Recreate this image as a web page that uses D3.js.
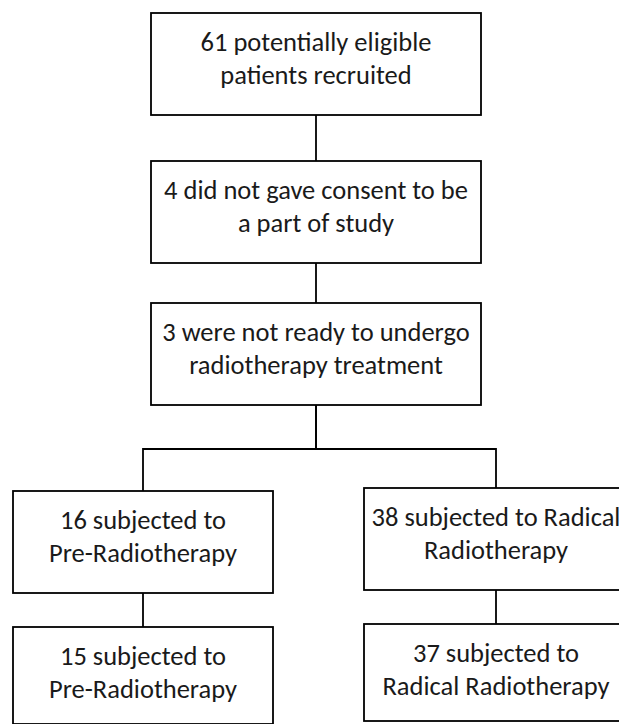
<!DOCTYPE html>
<html>
<head>
<meta charset="utf-8">
<script src="https://cdn.jsdelivr.net/npm/d3@7"></script>
<style>
  body { margin: 0; background: #fff; }
  svg { display: block; }
  .box { fill: #fff; stroke: #000; stroke-width: 1.8; }
  .link { fill: none; stroke: #000; stroke-width: 1.8; }
  .label { font-family: Carlito, Calibri, Lato, sans-serif; font-size: 26.5px; fill: #1a1a1a; }
</style>
</head>
<body>
<div id="chart"></div>
<script>
// flow steps, top to bottom
var stepIds   = ["recruited", "consent", "ready", "preRT", "radRT", "preRT2", "radRT2"];
var counts    = [61, 4, 3, 16, 38, 15, 37];
var firstLine = ["potentially eligible", "did not gave consent to be", "were not ready to undergo",
                 "subjected to", "subjected to Radical", "subjected to", "subjected to"];
var secondLine = ["patients recruited", "a part of study", "radiotherapy treatment",
                  "Pre-Radiotherapy", "Radiotherapy", "Pre-Radiotherapy", "Radical Radiotherapy"];
var levels    = [0, 1, 2, 3, 3, 4, 4];
var branches  = ["main", "main", "main", "left", "right", "left", "right"];
var parents   = [null, "recruited", "consent", "ready", "ready", "preRT", "radRT"];

var width = 619, height = 724;

var svg = d3.select("#chart").append("svg")
    .attr("width", width)
    .attr("height", height);

// layout scales
var xCenter = d3.scaleOrdinal().domain(["main", "left", "right"]).range([316, 143, 496]);
var boxW    = d3.scaleOrdinal().domain(["main", "left", "right"]).range([330, 260, 264]);
var yTop    = d3.scaleOrdinal().domain([0, 1, 2, 3, 4]).range([13, 161, 303, 489, 625]);
var boxH    = d3.scaleOrdinal().domain([0, 1, 2, 3, 4]).range([102, 102, 102, 102, 97]);
// small per-branch nudge seen in the source figure
var nudge   = d3.scaleOrdinal().domain(["main", "left", "right"]).range([0, 2, -1]);

var nodes = stepIds.map(function(id, i) {
  var b = branches[i];
  var top = yTop(levels[i]) + nudge(b);
  return {
    id: id,
    lines: [counts[i] + " " + firstLine[i], secondLine[i]],
    cx: xCenter(b),
    w: boxW(b),
    top: top,
    bottom: top + boxH(levels[i]),
    parent: parents[i]
  };
});
var byId = {};
nodes.forEach(function(d) { byId[d.id] = d; });

// connectors
var splitY = 449;
nodes.forEach(function(d) {
  if (!d.parent) return;
  var p = byId[d.parent];
  var path;
  if (p.cx === d.cx) {
    path = "M" + d.cx + "," + p.bottom + "V" + d.top;
  } else {
    path = "M" + p.cx + "," + p.bottom + "V" + splitY + "H" + d.cx + "V" + d.top;
  }
  svg.append("path").attr("class", "link").attr("d", path);
});

// boxes
var g = svg.selectAll("g.node")
    .data(nodes)
    .enter().append("g")
    .attr("class", "node");

g.append("rect")
    .attr("class", "box")
    .attr("x", function(d) { return d.cx - d.w / 2; })
    .attr("y", function(d) { return d.top; })
    .attr("width", function(d) { return d.w; })
    .attr("height", function(d) { return d.bottom - d.top; });

g.each(function(d) {
  var t = d3.select(this);
  d.lines.forEach(function(line, j) {
    t.append("text")
      .attr("class", "label")
      .attr("x", d.cx)
      .attr("y", d.top + 38 + j * 33)
      .attr("text-anchor", "middle")
      .text(line);
  });
});
</script>
</body>
</html>
